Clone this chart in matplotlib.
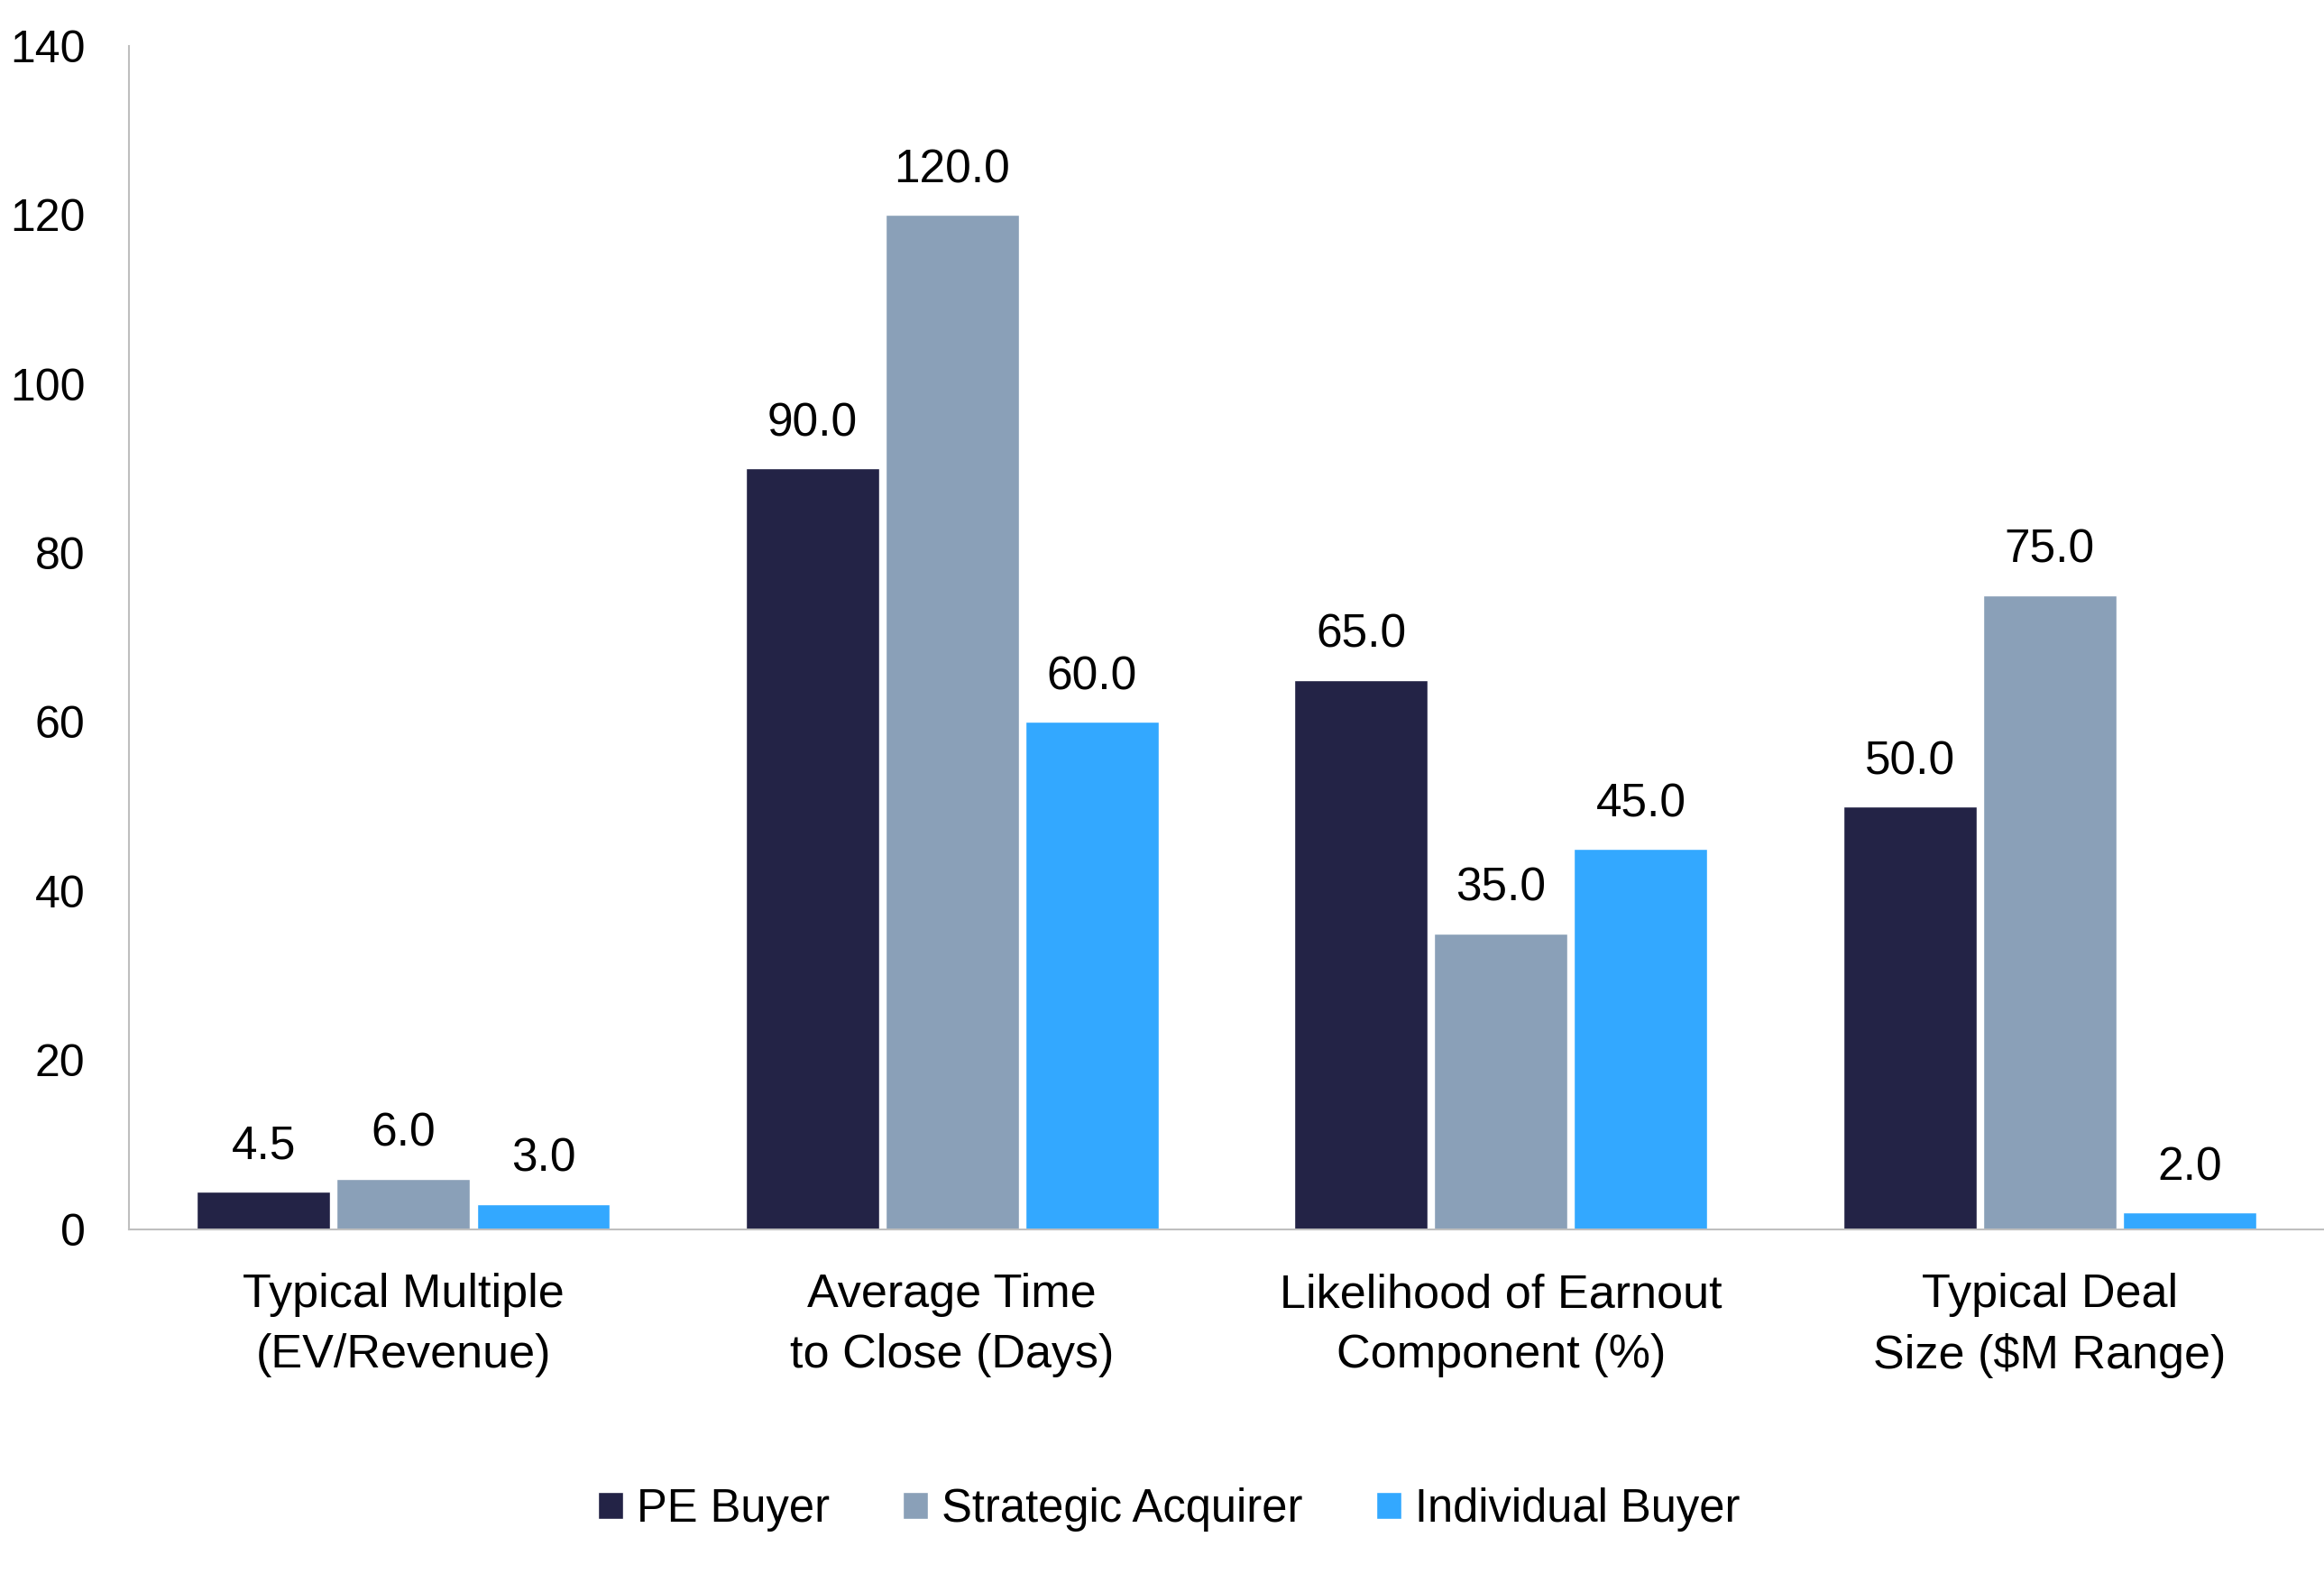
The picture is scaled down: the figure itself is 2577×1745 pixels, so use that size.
import numpy as np
import matplotlib
matplotlib.use('Agg')
import matplotlib.pyplot as plt

# data
categories = ['Typical Multiple\n(EV/Revenue)', 'Average Time\nto Close (Days)',
              'Likelihood of Earnout\nComponent (%)', 'Typical Deal\nSize ($M Range)']
series_names = ['PE Buyer', 'Strategic Acquirer', 'Individual Buyer']
pe_buyer = [4.5, 90.0, 65.0, 50.0]
strategic_acquirer = [6.0, 120.0, 35.0, 75.0]
individual_buyer = [3.0, 60.0, 45.0, 2.0]
y_ticks = [0, 20, 40, 60, 80, 100, 120, 140]

colors = ['#232346', '#8aa0b8', '#33a8ff']

plt.rcParams['font.family'] = ['Liberation Sans', 'DejaVu Sans']

fig = plt.figure(figsize=(25.77, 17.45), dpi=100)
ax = fig.add_axes([0.0555, 0.219, 0.9445, 0.752])

x = np.arange(len(categories))
width = 0.243
step = 0.255
for i, (vals, name) in enumerate(zip([pe_buyer, strategic_acquirer, individual_buyer], series_names)):
    bars = ax.bar(x + (i - 1) * step, vals, width, color=colors[i], label=name,
                  edgecolor='white', linewidth=1.0)
    ax.bar_label(bars, fmt='%.1f', padding=18, fontsize=37, color='black')

ax.set_xlim(-0.5, len(categories) - 0.5)
ax.set_ylim(0, 140)
ax.set_yticks(y_ticks)
ax.set_xticks(x)
ax.set_xticklabels(categories, fontsize=37.5, linespacing=1.45)
ax.tick_params(axis='y', length=0, pad=35, labelsize=36)
ax.tick_params(axis='x', length=0, pad=35)

for s in ['top', 'right']:
    ax.spines[s].set_visible(False)
for s in ['left', 'bottom']:
    ax.spines[s].set_color('#bfbfbf')
    ax.spines[s].set_linewidth(1.5)

fig.legend(loc='center', bbox_to_anchor=(0.503, 0.041), ncol=3, frameon=False,
           fontsize=36.5, handlelength=0.55, handleheight=0.55, handletextpad=0.3,
           columnspacing=1.6)

fig.savefig('out.png', dpi=100)
